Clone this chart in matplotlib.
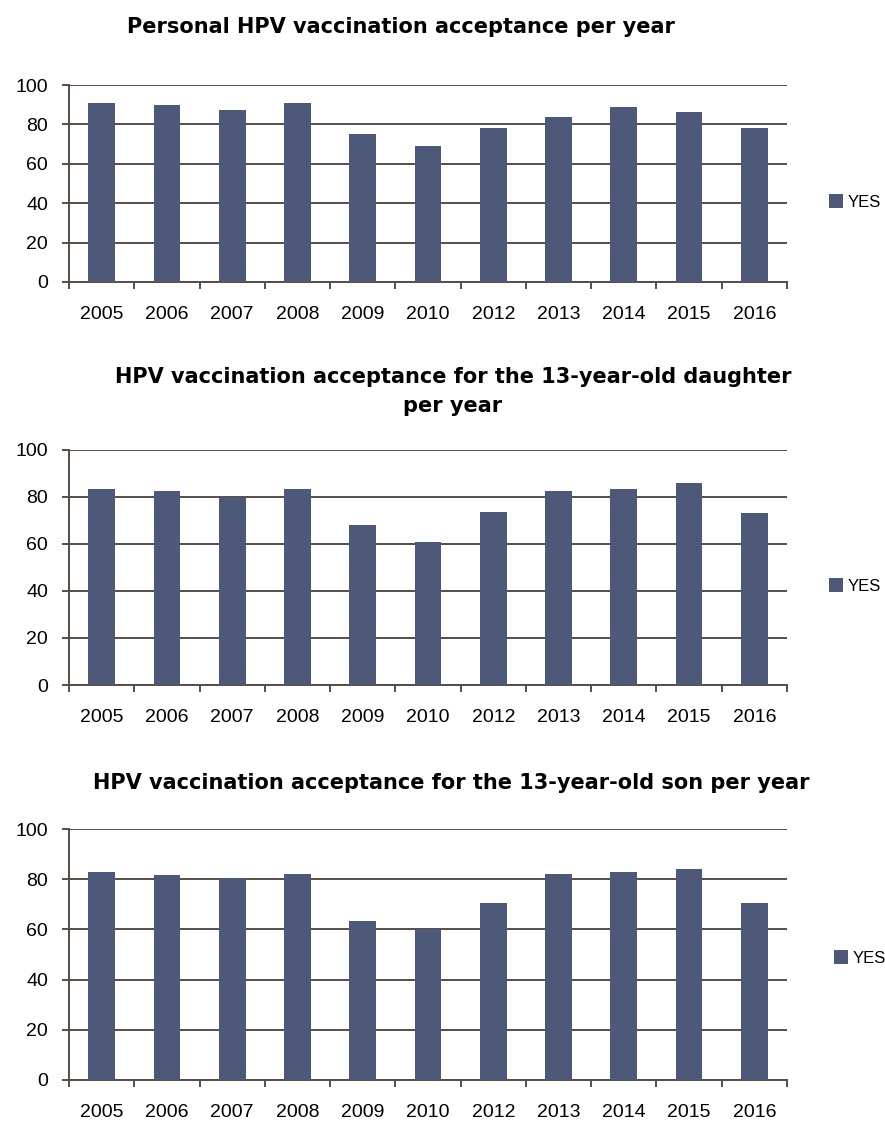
import matplotlib.pyplot as plt
import numpy as np

years = ['2005', '2006', '2007', '2008', '2009', '2010', '2012', '2013', '2014', '2015', '2016']
personal = [91, 90, 87.5, 91, 75, 69, 78, 84, 89, 86.5, 78]
daughter = [83.5, 82.5, 80, 83.5, 68, 61, 73.5, 82.5, 83.5, 86, 73]
son = [83, 81.5, 80.5, 82, 63.5, 60, 70.5, 82, 83, 84, 70.5]

titles = ['Personal HPV vaccination acceptance per year',
          'HPV vaccination acceptance for the 13-year-old daughter\nper year',
          'HPV vaccination acceptance for the 13-year-old son per year']

bar_color = '#4e5979'
line_color = '#574c47'

plt.rcParams['font.family'] = ['Liberation Sans', 'DejaVu Sans']

fig = plt.figure(figsize=(8.85, 11.22), dpi=100)

W, H = 885, 1122
# plot area of each panel in pixels: top, bottom
boxes = [(85, 282), (450, 685), (829, 1080)]
title_pos = [(401, [27]), (453, [377, 406]), (451, [783])]
legend_pos = [(829, 202), (829, 586), (834, 958)]
left, right = 69, 787

for vals, title, (top, bot), (tx, tys), (lx, ly) in zip(
        [personal, daughter, son], titles, boxes, title_pos, legend_pos):
    ax = fig.add_axes([left / W, 1 - bot / H, (right - left) / W, (bot - top) / H])
    x = np.arange(len(years))
    ax.bar(x, vals, width=0.41, color=bar_color, label='YES', zorder=3)
    ax.set_xlim(-0.5, len(years) - 0.5)
    ax.set_ylim(0, 100)
    ax.set_yticks(range(0, 101, 20))
    ax.yaxis.grid(True, color=line_color, linewidth=1.4, zorder=0)
    ax.set_axisbelow(True)
    for s in ['top', 'right']:
        ax.spines[s].set_visible(False)
    for s in ['left', 'bottom']:
        ax.spines[s].set_color(line_color)
        ax.spines[s].set_linewidth(1.4)
    ax.set_xticks(x)
    ax.set_xticklabels(years, fontsize=14)
    ax.set_xticks(np.arange(-0.5, len(years)), minor=True)
    ax.tick_params(axis='x', which='major', length=0, pad=17)
    ax.tick_params(axis='x', which='minor', length=5, color=line_color, width=1.4)
    ax.tick_params(axis='y', length=5, color=line_color, width=1.4, labelsize=14, pad=10)
    for line, ty in zip(title.split('\n'), tys):
        fig.text(tx / W, 1 - ty / H, line, ha='center', va='center',
                 fontsize=15, fontweight='bold', family='DejaVu Sans')
    ax.legend(loc='center left',
              bbox_to_anchor=((lx - left) / (right - left), (bot - ly) / (bot - top)),
              frameon=False, fontsize=12, handlelength=0.85, handleheight=0.85,
              handletextpad=0.25, borderpad=0, borderaxespad=0)

fig.savefig('out.png', dpi=100)
plt.close()
